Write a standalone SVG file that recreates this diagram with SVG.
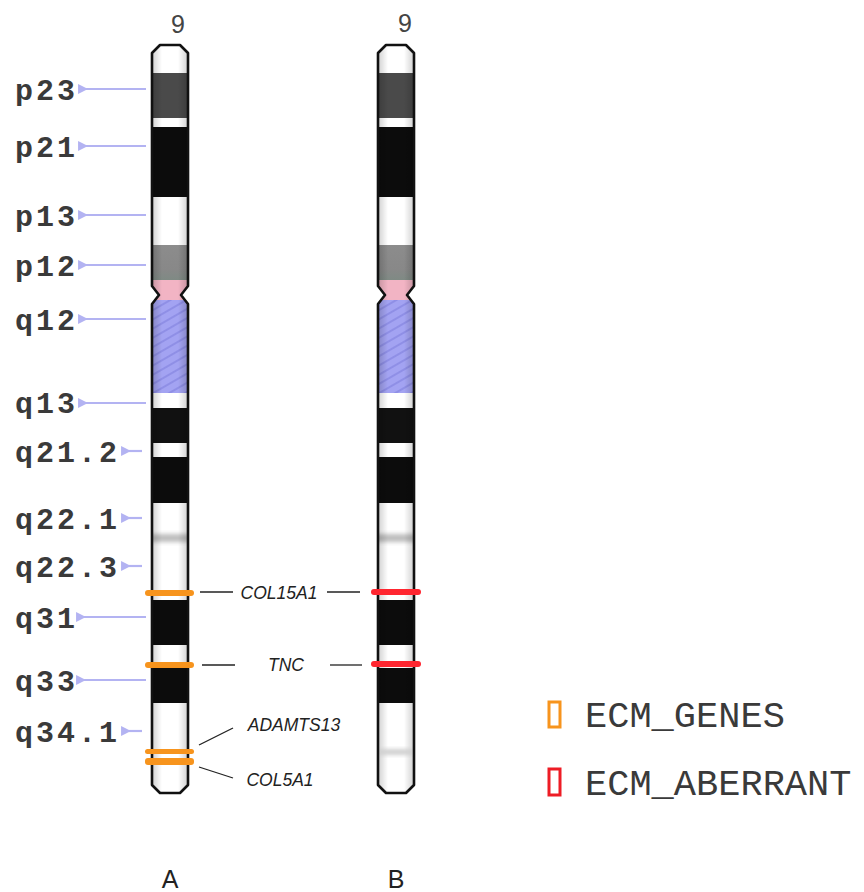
<svg xmlns="http://www.w3.org/2000/svg" xmlns:xlink="http://www.w3.org/1999/xlink" width="864" height="892" viewBox="0 0 864 892">
  <style>
    .band-lbl { font-family: "Liberation Mono", "Courier New", monospace; font-weight: bold; font-size: 30px; letter-spacing: 3px; fill: #3a3a3a; }
    .chr-num { font-family: "Liberation Sans", Arial, sans-serif; font-size: 25px; fill: #444; text-anchor: middle; }
    .gene { font-family: "Liberation Sans", Arial, sans-serif; font-style: italic; font-size: 17.5px; fill: #222; text-anchor: middle; }
    .legend-txt { font-family: "Liberation Mono", "Courier New", monospace; font-size: 37px; fill: #3a3a3a; }
    .panel { font-family: "Liberation Sans", Arial, sans-serif; font-size: 25px; fill: #222; text-anchor: middle; }
    .tick { stroke: #b3b3f2; stroke-width: 2.2; fill: none; marker-start: url(#tickHead); }
    .lead { stroke: #222; stroke-width: 1.3; fill: none; }
    .outline { fill: none; stroke: #111; stroke-width: 2.6; stroke-linejoin: round; }
    .hit-ecm { fill: #f7941d; }
    .hit-ab { fill: #ff2630; }
  </style>
  <defs>
    <marker id="tickHead" viewBox="0 0 10 10" refX="2" refY="5" markerWidth="4.5" markerHeight="4.5" orient="auto-start-reverse">
      <path d="M0,5 L10,0 L10,10 Z" fill="#b3b3f2"/>
    </marker>
    <!-- chromosome outline, centred on x = 0 -->
    <path id="chrShape" d="M-10,45 L10,45 L18,53 L18,286 L11,295 L18,304 L18,785 L10,793 L-10,793 L-18,785 L-18,304 L-11,295 L-18,286 L-18,53 Z"/>
    <clipPath id="chrClip"><use xlink:href="#chrShape"/></clipPath>
    <linearGradient id="shade" x1="0" x2="1" y1="0" y2="0">
      <stop offset="0" stop-color="#000" stop-opacity="0.22"/>
      <stop offset="0.3" stop-color="#000" stop-opacity="0"/>
      <stop offset="0.7" stop-color="#000" stop-opacity="0"/>
      <stop offset="1" stop-color="#000" stop-opacity="0.22"/>
    </linearGradient>
    <linearGradient id="p12fill" x1="0" x2="0" y1="0" y2="1">
      <stop offset="0" stop-color="#8c8c8c"/>
      <stop offset="0.7" stop-color="#888"/>
      <stop offset="1" stop-color="#7f8a84"/>
    </linearGradient>
    <pattern id="hetero" width="8" height="8" patternUnits="userSpaceOnUse" patternTransform="rotate(-30)">
      <rect width="8" height="8" fill="#a3a3f2"/>
      <line x1="0" y1="4" x2="8" y2="4" stroke="#8f8fe6" stroke-width="2"/>
    </pattern>
    <filter id="soft" x="-20%" y="-50%" width="140%" height="200%">
      <feGaussianBlur stdDeviation="2"/>
    </filter>
    <!-- G-banding of chromosome 9 -->
    <g id="bands">
      <rect x="-20" y="43" width="40" height="30" fill="#fff"/>
      <rect x="-20" y="73" width="40" height="45" fill="#4a4a4a"/>
      <rect x="-20" y="118" width="40" height="9" fill="#fff"/>
      <rect x="-20" y="127" width="40" height="70" fill="#0c0c0c"/>
      <rect x="-20" y="197" width="40" height="48" fill="#fff"/>
      <rect x="-20" y="245" width="40" height="35" fill="url(#p12fill)"/>
      <rect x="-20" y="280" width="40" height="20" fill="#f2b4c4"/>
      <rect x="-20" y="300" width="40" height="93" fill="url(#hetero)"/>
      <rect x="-20" y="393" width="40" height="15" fill="#fff"/>
      <rect x="-20" y="408" width="40" height="35" fill="#111"/>
      <rect x="-20" y="443" width="40" height="14" fill="#fff"/>
      <rect x="-20" y="457" width="40" height="46" fill="#0c0c0c"/>
      <rect x="-20" y="503" width="40" height="97" fill="#fff"/>
      <rect x="-20" y="534" width="40" height="8" fill="#bdbdbd" filter="url(#soft)"/>
      <rect x="-20" y="600" width="40" height="45" fill="#0c0c0c"/>
      <rect x="-20" y="645" width="40" height="23" fill="#fff"/>
      <rect x="-20" y="668" width="40" height="35" fill="#0c0c0c"/>
      <rect x="-20" y="703" width="40" height="92" fill="#fff"/>
      <rect x="-20" y="43" width="40" height="752" fill="url(#shade)"/>
    </g>
  </defs>

  <rect width="864" height="892" fill="#fff"/>

  <!-- band labels with ticks -->
  <g id="band-labels">
    <text class="band-lbl" x="15" y="100">p23</text>
    <text class="band-lbl" x="15" y="157">p21</text>
    <text class="band-lbl" x="15" y="226">p13</text>
    <text class="band-lbl" x="15" y="276">p12</text>
    <text class="band-lbl" x="15" y="330">q12</text>
    <text class="band-lbl" x="15" y="413">q13</text>
    <text class="band-lbl" x="15" y="462">q21.2</text>
    <text class="band-lbl" x="15" y="529">q22.1</text>
    <text class="band-lbl" x="15" y="577">q22.3</text>
    <text class="band-lbl" x="15" y="628">q31</text>
    <text class="band-lbl" x="15" y="691">q33</text>
    <text class="band-lbl" x="15" y="742">q34.1</text>
  </g>

  <g id="ticks">
    <line class="tick" x1="86" y1="89" x2="146" y2="89"/>
    <line class="tick" x1="86" y1="146" x2="146" y2="146"/>
    <line class="tick" x1="86" y1="215" x2="146" y2="215"/>
    <line class="tick" x1="86" y1="265" x2="146" y2="265"/>
    <line class="tick" x1="86" y1="319" x2="146" y2="319"/>
    <line class="tick" x1="86" y1="403" x2="146" y2="403"/>
    <line class="tick" x1="129" y1="451" x2="142" y2="451"/>
    <line class="tick" x1="129" y1="518" x2="142" y2="518"/>
    <line class="tick" x1="129" y1="566" x2="142" y2="566"/>
    <line class="tick" x1="84" y1="617" x2="146" y2="617"/>
    <line class="tick" x1="84" y1="680" x2="146" y2="680"/>
    <line class="tick" x1="129" y1="731" x2="142" y2="731"/>
  </g>

  <!-- chromosome A -->
  <g id="chromosome-A" transform="translate(170,0)">
    <g clip-path="url(#chrClip)"><use xlink:href="#bands"/></g>
    <use xlink:href="#chrShape" class="outline"/>
    <rect class="hit-ecm" x="-25" y="590" width="49" height="6" rx="3"/>
    <rect class="hit-ecm" x="-25" y="662" width="49" height="6" rx="3"/>
    <rect class="hit-ecm" x="-25" y="749" width="49" height="5" rx="2.5"/>
    <rect class="hit-ecm" x="-25" y="758" width="49" height="7" rx="3"/>
    <text class="chr-num" x="8" y="33">9</text>
  </g>

  <!-- chromosome B -->
  <g id="chromosome-B" transform="translate(396,0)">
    <g clip-path="url(#chrClip)">
      <use xlink:href="#bands"/>
      <rect x="-20" y="749" width="40" height="6" fill="#cfcfcf" filter="url(#soft)"/>
    </g>
    <use xlink:href="#chrShape" class="outline"/>
    <rect class="hit-ab" x="-25" y="589" width="50" height="6" rx="3"/>
    <rect class="hit-ab" x="-25" y="661" width="50" height="6" rx="3"/>
    <text class="chr-num" x="9" y="32">9</text>
  </g>

  <!-- gene leader lines -->
  <g id="connectors">
    <line class="lead" x1="200" y1="592" x2="233" y2="592"/>
    <line class="lead" x1="327" y1="592" x2="360" y2="592"/>
    <line class="lead" x1="202" y1="665" x2="235" y2="665"/>
    <line class="lead" x1="330" y1="665" x2="362" y2="665"/>
    <line class="lead" x1="199" y1="745" x2="233" y2="728"/>
    <line class="lead" x1="199" y1="767" x2="233" y2="778"/>
  </g>

  <g id="gene-labels">
    <text class="gene" x="279" y="599">COL15A1</text>
    <text class="gene" x="286" y="671">TNC</text>
    <text class="gene" x="294" y="731">ADAMTS13</text>
    <text class="gene" x="280" y="786">COL5A1</text>
  </g>

  <!-- legend -->
  <g id="legend">
    <rect x="549" y="702" width="11" height="25" fill="#fff" stroke="#f7941d" stroke-width="3"/>
    <text class="legend-txt" x="585" y="727">ECM_GENES</text>
    <rect x="549" y="769" width="11" height="26" fill="#fff" stroke="#ee1c25" stroke-width="3"/>
    <text class="legend-txt" x="585" y="795">ECM_ABERRANT</text>
  </g>

  <g id="panel-labels">
    <text class="panel" x="170" y="888">A</text>
    <text class="panel" x="396" y="888">B</text>
  </g>
</svg>
